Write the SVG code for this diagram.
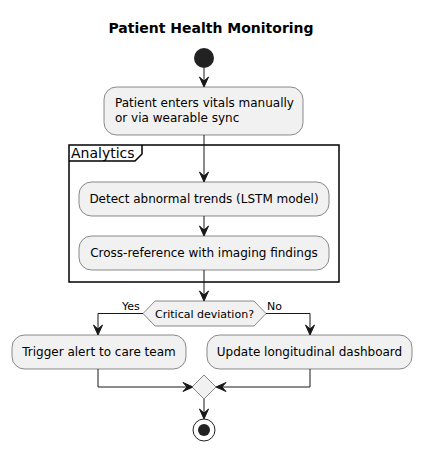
<svg xmlns="http://www.w3.org/2000/svg" width="422" height="451" viewBox="0 0 422 451">
<style>
.act{fill:#F1F1F1;stroke:#181818;stroke-width:0.5}
.t{font-family:"DejaVu Sans",sans-serif;font-size:12px;fill:#000}
.s{font-family:"DejaVu Sans",sans-serif;font-size:11px;fill:#000}
.ln{fill:none;stroke:#181818;stroke-width:1}
.ah{fill:#181818;stroke:#181818;stroke-width:1}
</style>
<rect width="422" height="451" fill="#FFFFFF"/>
<text x="211" y="33" text-anchor="middle" style="font-family:'DejaVu Sans',sans-serif;font-size:14px;font-weight:bold">Patient Health Monitoring</text>
<g id="frame-analytics">
<rect x="69" y="145" width="270" height="137" fill="none" stroke="#000" stroke-width="1.5"/>
<path d="M69,161 L135,161 L142,154 L142,145" fill="none" stroke="#000" stroke-width="1.5"/>
<text x="71" y="158" style="font-family:'DejaVu Sans',sans-serif;font-size:14px">Analytics</text>
</g>
<g id="connectors">
<line class="ln" x1="204" y1="68" x2="204" y2="86"/>
<polygon class="ah" points="199.5,77 204,87 208.5,77 204,81"/>
<line class="ln" x1="204" y1="135" x2="204" y2="181"/>
<polygon class="ah" points="199.5,172 204,182 208.5,172 204,176"/>
<line class="ln" x1="204" y1="216" x2="204" y2="235"/>
<polygon class="ah" points="199.5,226 204,236 208.5,226 204,230"/>
<line class="ln" x1="204" y1="270" x2="204" y2="300"/>
<polygon class="ah" points="199.5,291 204,301 208.5,291 204,295"/>
<polyline class="ln" points="143,313.5 98,313.5 98,334"/>
<polygon class="ah" points="93.5,325 98,335 102.5,325 98,329"/>
<polyline class="ln" points="266,313.5 310,313.5 310,334"/>
<polygon class="ah" points="305.5,325 310,335 314.5,325 310,329"/>
<text class="s" x="122" y="310">Yes</text>
<text class="s" x="267" y="310">No</text>
<polyline class="ln" points="98,369 98,387 192,387"/>
<polygon class="ah" points="183,382.5 193,387 183,391.5 187,387"/>
<polyline class="ln" points="310,369 310,387 217,387"/>
<polygon class="ah" points="226,382.5 216,387 226,391.5 222,387"/>
<line class="ln" x1="204" y1="399" x2="204" y2="418"/>
<polygon class="ah" points="199.5,409 204,419 208.5,409 204,413"/>
</g>
<g id="start"><circle cx="204" cy="58" r="10" fill="#222222"/></g>
<g id="patient-enters">
<rect class="act" x="104" y="87" width="199" height="48" rx="12.5" ry="12.5"/>
<text class="t" x="115" y="107">Patient enters vitals manually</text>
<text class="t" x="115" y="122">or via wearable sync</text>
</g>
<g id="detect">
<rect class="act" x="79" y="182" width="250" height="34" rx="12.5" ry="12.5"/>
<text class="t" x="204" y="203" text-anchor="middle">Detect abnormal trends (LSTM model)</text>
</g>
<g id="cross-ref">
<rect class="act" x="79" y="236" width="250" height="34" rx="12.5" ry="12.5"/>
<text class="t" x="204" y="257" text-anchor="middle">Cross-reference with imaging findings</text>
</g>
<g id="decision">
<polygon class="act" points="143,313.5 155,301 254,301 266,313.5 254,326 155,326"/>
<text class="s" x="204.5" y="317.5" text-anchor="middle">Critical deviation?</text>
</g>
<g id="trigger-alert">
<rect class="act" x="12" y="335" width="174" height="34" rx="12.5" ry="12.5"/>
<text class="t" x="99" y="356" text-anchor="middle">Trigger alert to care team</text>
</g>
<g id="update-dashboard">
<rect class="act" x="207" y="335" width="205" height="34" rx="12.5" ry="12.5"/>
<text class="t" x="309.5" y="356" text-anchor="middle">Update longitudinal dashboard</text>
</g>
<g id="merge">
<polygon class="act" points="204,375 216,387 204,399 192,387"/>
</g>
<g id="end">
<circle cx="204" cy="430" r="11" fill="none" stroke="#222222" stroke-width="1"/>
<circle cx="204" cy="430" r="6" fill="#222222"/>
</g>
</svg>
